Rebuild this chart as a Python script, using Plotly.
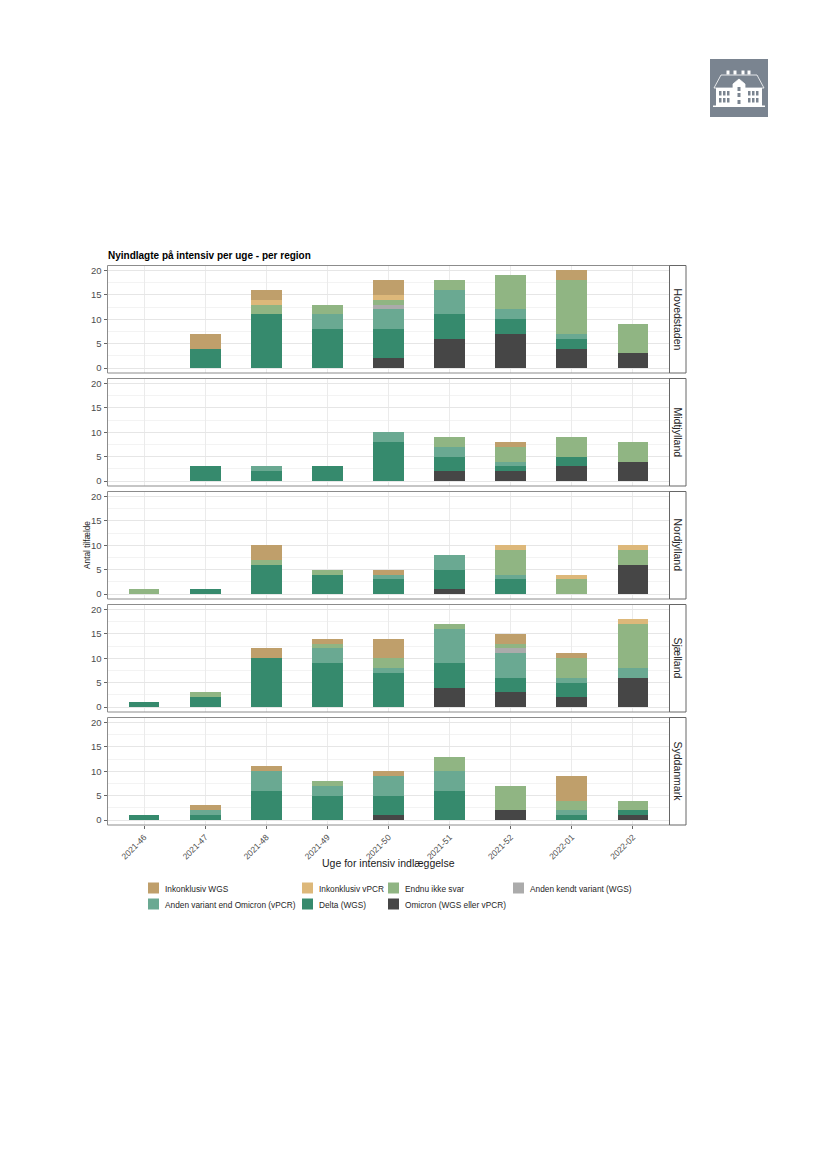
import plotly.graph_objects as go
from plotly.subplots import make_subplots

weeks = ["2021-46","2021-47","2021-48","2021-49","2021-50","2021-51","2021-52","2022-01","2022-02"]
regions = ["Hovedstaden","Midtjylland","Nordjylland","Sjælland","Syddanmark"]
y_ticks = [0,5,10,15,20]

series_names = ["Omicron (WGS eller vPCR)","Delta (WGS)","Anden variant end Omicron (vPCR)",
                "Anden kendt variant (WGS)","Endnu ikke svar","Inkonklusiv vPCR","Inkonklusiv WGS"]
series_colors = ["#464646","#368A6D","#6AA992","#ABABAB","#90B583","#DDB87A","#BF9F6B"]

hoved_omicron = [0,0,0,0,2,6,7,4,3]
hoved_delta   = [0,4,11,8,6,5,3,2,0]
hoved_anden   = [0,0,0,3,4,5,2,1,0]
hoved_kendt   = [0,0,0,0,1,0,0,0,0]
hoved_endnu   = [0,0,2,2,1,2,7,11,6]
hoved_vpcr    = [0,0,1,0,1,0,0,0,0]
hoved_wgs     = [0,3,2,0,3,0,0,2,0]

midt_omicron = [0,0,0,0,0,2,2,3,4]
midt_delta   = [0,3,2,3,8,3,1,2,0]
midt_anden   = [0,0,1,0,2,2,1,0,0]
midt_kendt   = [0,0,0,0,0,0,0,0,0]
midt_endnu   = [0,0,0,0,0,2,3,4,4]
midt_vpcr    = [0,0,0,0,0,0,0,0,0]
midt_wgs     = [0,0,0,0,0,0,1,0,0]

nord_omicron = [0,0,0,0,0,1,0,0,6]
nord_delta   = [0,1,6,4,3,4,3,0,0]
nord_anden   = [0,0,0,0,1,3,1,0,0]
nord_kendt   = [0,0,0,0,0,0,0,0,0]
nord_endnu   = [1,0,1,1,0,0,5,3,3]
nord_vpcr    = [0,0,0,0,0,0,1,1,1]
nord_wgs     = [0,0,3,0,1,0,0,0,0]

sjael_omicron = [0,0,0,0,0,4,3,2,6]
sjael_delta   = [1,2,10,9,7,5,3,3,0]
sjael_anden   = [0,0,0,3,1,7,5,1,2]
sjael_kendt   = [0,0,0,0,0,0,1,0,0]
sjael_endnu   = [0,1,0,1,2,1,1,4,9]
sjael_vpcr    = [0,0,0,0,0,0,0,0,1]
sjael_wgs     = [0,0,2,1,4,0,2,1,0]

syd_omicron = [0,0,0,0,1,0,2,0,1]
syd_delta   = [1,1,6,5,4,6,0,1,1]
syd_anden   = [0,1,4,2,4,4,0,1,0]
syd_kendt   = [0,0,0,0,0,0,0,0,0]
syd_endnu   = [0,0,0,1,0,3,5,2,2]
syd_vpcr    = [0,0,0,0,0,0,0,0,0]
syd_wgs     = [0,1,1,0,1,0,0,5,0]

region_series = [
    [hoved_omicron,hoved_delta,hoved_anden,hoved_kendt,hoved_endnu,hoved_vpcr,hoved_wgs],
    [midt_omicron,midt_delta,midt_anden,midt_kendt,midt_endnu,midt_vpcr,midt_wgs],
    [nord_omicron,nord_delta,nord_anden,nord_kendt,nord_endnu,nord_vpcr,nord_wgs],
    [sjael_omicron,sjael_delta,sjael_anden,sjael_kendt,sjael_endnu,sjael_vpcr,sjael_wgs],
    [syd_omicron,syd_delta,syd_anden,syd_kendt,syd_endnu,syd_vpcr,syd_wgs],
]

W, H = 827, 1169
FONT = "Liberation Sans"
def px(x): return x / W
def py(y): return 1 - y / H

fig = make_subplots(rows=5, cols=1, shared_xaxes=True)

for r, rows in enumerate(region_series, start=1):
    for name, color, vals in zip(series_names, series_colors, rows):
        fig.add_trace(go.Bar(x=weeks, y=vals, name=name, marker=dict(color=color, line=dict(width=0)),
                             showlegend=False), row=r, col=1)

panel_left, panel_right, strip_right = 107.5, 669.5, 686
panel_tops = [265.5, 378.5, 491.5, 604.5, 717.5]
panel_h = 107.5

shapes, annotations = [], []
for i, top in enumerate(panel_tops):
    bottom = top + panel_h
    n = "" if i == 0 else str(i + 1)
    fig.update_layout({f"yaxis{n}": dict(
        domain=[py(bottom), py(top)], range=[-1, 21], tickmode="array", tickvals=y_ticks,
        tickfont=dict(family=FONT, size=9.5, color="#4D4D4D"), ticks="outside", ticklen=3, tickwidth=1,
        tickcolor="#666666", showgrid=True, gridcolor="#E6E6E6", gridwidth=1.2, zeroline=False,
        minor=dict(dtick=2.5, tick0=0, showgrid=True, gridcolor="#F3F3F3", gridwidth=1, ticks=""),
        showline=False)})
    fig.update_layout({f"xaxis{n}": dict(
        domain=[px(panel_left), px(panel_right)], type="category", categoryorder="array",
        categoryarray=weeks, range=[-0.6, 8.6], showgrid=True, gridcolor="#EBEBEB", gridwidth=1.2,
        zeroline=False, showline=False,
        ticks="outside" if i == 4 else "", ticklen=3, tickwidth=1, tickcolor="#666666",
        showticklabels=i == 4, tickangle=-45,
        tickfont=dict(family=FONT, size=8.5, color="#4D4D4D"))})
    shapes.append(dict(type="rect", xref="paper", yref="paper", x0=px(panel_left), x1=px(panel_right),
                       y0=py(bottom), y1=py(top), line=dict(color="#8C8C8C", width=1), layer="above"))
    shapes.append(dict(type="rect", xref="paper", yref="paper", x0=px(panel_right), x1=px(strip_right),
                       y0=py(bottom), y1=py(top), line=dict(color="#666666", width=1), layer="above"))
    annotations.append(dict(text=regions[i], xref="paper", yref="paper", x=px((panel_right + strip_right) / 2),
                            y=py((top + bottom) / 2), xanchor="center", yanchor="middle", showarrow=False,
                            textangle=90, font=dict(family=FONT, size=10.5, color="#262626")))

def label(text, x, y, size, anchor="left", color="#1A1A1A", angle=0, bold=False):
    annotations.append(dict(text=f"<b>{text}</b>" if bold else text, xref="paper", yref="paper",
                            x=px(x), y=py(y), xanchor=anchor, yanchor="middle", showarrow=False,
                            textangle=angle, font=dict(family=FONT, size=size, color=color)))

label("Nyindlagte på intensiv per uge - per region", 105.5, 255.5, 10, bold=True, color="#000000")
label("Uge for intensiv indlæggelse", 388.5, 863, 10.5, anchor="center")
label("Antal tilfælde", 87, 545, 8.3, anchor="center", angle=-90)

legend_items = [
    ("Inkonklusiv WGS", "#BF9F6B", 148, 888), ("Inkonklusiv vPCR", "#DDB87A", 302, 888),
    ("Endnu ikke svar", "#90B583", 388, 888), ("Anden kendt variant (WGS)", "#ABABAB", 513, 888),
    ("Anden variant end Omicron (vPCR)", "#6AA992", 148, 904), ("Delta (WGS)", "#368A6D", 302, 904),
    ("Omicron (WGS eller vPCR)", "#464646", 388, 904),
]
for text, color, x, y in legend_items:
    shapes.append(dict(type="rect", xref="paper", yref="paper", x0=px(x), x1=px(x + 11),
                       y0=py(y + 5.5), y1=py(y - 5.5), fillcolor=color, line=dict(width=0)))
    label(text, x + 15, y + 0.5, 8.3, color="#262626")

# logo
def box(x0, y0, x1, y1, fill, layer="above"):
    shapes.append(dict(type="rect", xref="paper", yref="paper", x0=px(x0), x1=px(x1), y0=py(y1), y1=py(y0),
                       fillcolor=fill, line=dict(width=0), layer=layer))
def poly(points, fill, stroke="#FFFFFF"):
    path = "M " + " L ".join(f"{px(a):.5f},{py(b):.5f}" for a, b in points) + " Z"
    shapes.append(dict(type="path", xref="paper", yref="paper", path=path, fillcolor=fill,
                       line=dict(color=stroke, width=0.8)))
LOGO = "#7A8490"
box(710, 59, 768, 117, LOGO)
poly([(721, 75), (757, 75), (764, 88), (714, 88)], LOGO)
box(716, 88, 762, 106, "#FFFFFF")
poly([(733, 106), (733, 84), (739, 79), (745, 84), (745, 106)], "#FFFFFF")
for cx in (728, 735, 743, 749):
    box(cx - 1.5, 70.5, cx + 1.5, 74.5, "#FFFFFF")
for wx in (719, 723, 727, 748, 752, 756):
    for wy in (91, 98):
        box(wx, wy, wx + 2.5, wy + 4.5, LOGO)
for wy in (87, 93, 100):
    box(737.5, wy, 740.5, wy + 4, LOGO)
box(713, 105.5, 765, 107, "#FFFFFF")

fig.update_layout(
    width=W, height=H, margin=dict(l=0, r=0, t=0, b=0), barmode="stack", bargap=0.5,
    paper_bgcolor="#FFFFFF", plot_bgcolor="#FFFFFF", showlegend=False,
    shapes=shapes, annotations=annotations, font=dict(family=FONT),
)
fig.write_html("out.html", config={"displayModeBar": False}, post_script="document.body.style.margin='0';")
